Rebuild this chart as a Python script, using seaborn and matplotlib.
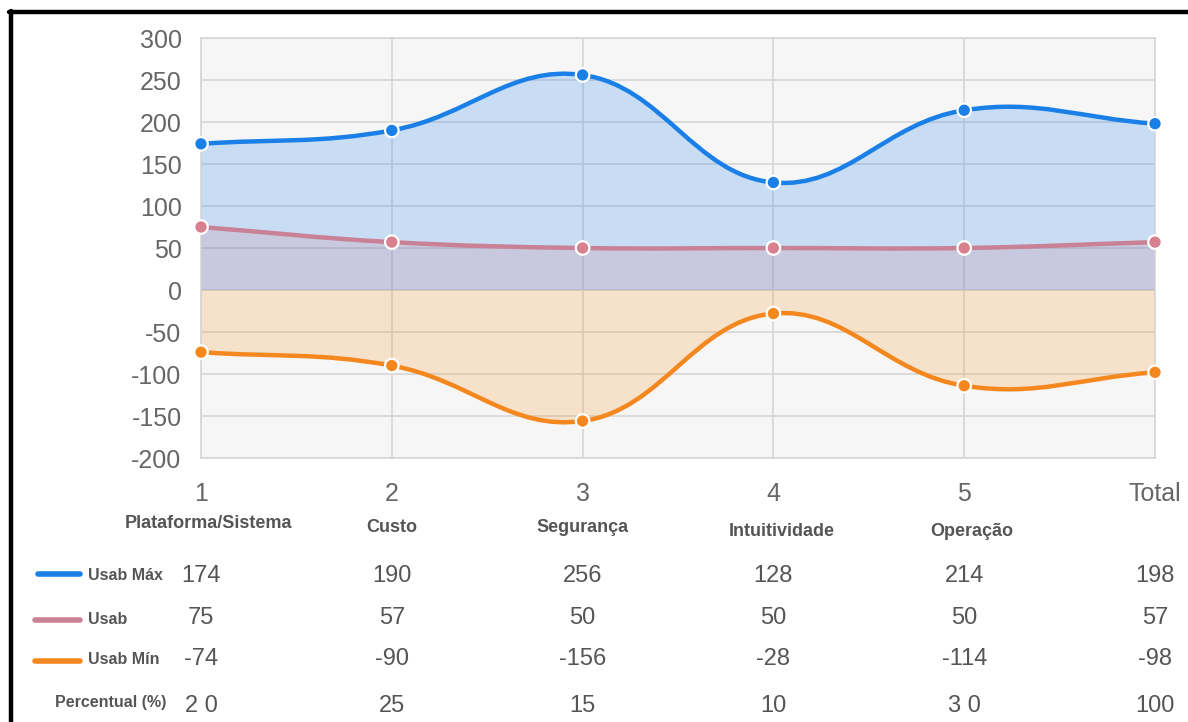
import numpy as np
import pandas as pd
import matplotlib
matplotlib.use("Agg")
import matplotlib.pyplot as plt
from matplotlib.path import Path
from matplotlib.patches import PathPatch
from matplotlib.lines import Line2D
from matplotlib.transforms import offset_copy
import seaborn as sns

# ---- data ----
tick_labels = ["1", "2", "3", "4", "5", "Total"]
categories = ["Plataforma/Sistema", "Custo", "Segurança", "Intuitividade", "Operação", ""]
usab_max = [174, 190, 256, 128, 214, 198]
usab = [75, 57, 50, 50, 50, 57]
usab_min = [-74, -90, -156, -28, -114, -98]
pct_labels = ["2 0", "25", "15", "10", "3 0", "100"]
series_names = ["Usab Máx", "Usab", "Usab Mín"]

sns.set_theme(style="white")
plt.rcParams["font.family"] = ["Liberation Sans", "DejaVu Sans"]
plt.rcParams["axes.unicode_minus"] = False

W, H = 1188, 722
fig = plt.figure(figsize=(W / 100, H / 100), dpi=100)
fig.patch.set_facecolor("white")

ax = fig.add_axes([201 / W, 1 - 458 / H, 954 / W, 420 / H])
ax.set_xlim(0, 5)
ax.set_ylim(-200, 300)
ax.set_facecolor("#f6f6f6")

grid_c = "#d6d6d6"
ax.set_yticks(np.arange(-200, 301, 50))
ax.set_xticks(range(len(tick_labels)))
ax.set_xticklabels(tick_labels)
ax.grid(True, color=grid_c, linewidth=1.2)
for sp in ax.spines.values():
    sp.set_color(grid_c)
    sp.set_linewidth(1.2)
ax.tick_params(axis="y", length=13, width=1.2, color=grid_c, pad=1,
               labelsize=18, labelcolor="#666666")
ax.tick_params(axis="x", length=16, width=1.2, color=grid_c, pad=1,
               labelsize=18, labelcolor="#666666")
ax.set_xlabel("")
ax.set_ylabel("")

xs = np.arange(len(tick_labels), dtype=float)


def smooth_path(values, tension=0.4):
    """Cubic bezier through the points, control points computed in pixel space."""
    pts = ax.transData.transform(np.column_stack([xs, values]))
    n = len(pts)
    c_prev = np.zeros_like(pts)
    c_next = np.zeros_like(pts)
    for i in range(n):
        p0 = pts[i - 1] if i > 0 else pts[i]
        p1 = pts[i]
        p2 = pts[i + 1] if i < n - 1 else pts[i]
        d01 = np.hypot(*(p1 - p0))
        d12 = np.hypot(*(p2 - p1))
        tot = d01 + d12
        s01 = d01 / tot if tot else 0
        s12 = d12 / tot if tot else 0
        c_prev[i] = p1 - tension * s01 * (p2 - p0)
        c_next[i] = p1 + tension * s12 * (p2 - p0)
    inv = ax.transData.inverted()
    pts_d = inv.transform(pts)
    cp_d = inv.transform(c_prev)
    cn_d = inv.transform(c_next)
    verts = [pts_d[0]]
    codes = [Path.MOVETO]
    for i in range(n - 1):
        verts += [cn_d[i], cp_d[i + 1], pts_d[i + 1]]
        codes += [Path.CURVE4] * 3
    return verts, codes


styles = [
    dict(line="#1a7fe6", fill="#1f82ea", marker="#1a7fe6"),
    dict(line="#c98196", fill="#c88296", marker="#d9808f"),
    dict(line="#f5871f", fill="#f8901f", marker="#f5871f"),
]
all_series = [usab_max, usab, usab_min]

# filled areas down to zero
for vals, st, z, a in zip(all_series, styles, [1, 2, 1], [0.21, 0.22, 0.2]):
    verts, codes = smooth_path(vals)
    fv = [(xs[0], 0.0)] + verts + [(xs[-1], 0.0), (xs[0], 0.0)]
    fc = [Path.MOVETO, Path.LINETO] + codes[1:] + [Path.LINETO, Path.CLOSEPOLY]
    ax.add_patch(PathPatch(Path(fv, fc), facecolor=st["fill"], alpha=a,
                           edgecolor="none", zorder=z))

# curves
for vals, st in zip(all_series, styles):
    verts, codes = smooth_path(vals)
    ax.add_patch(PathPatch(Path(verts, codes), facecolor="none",
                           edgecolor=st["line"], linewidth=3.2, zorder=4,
                           capstyle="round", joinstyle="round"))

# points
df = pd.DataFrame({
    "pos": np.tile(xs, 3),
    "value": usab_max + usab + usab_min,
    "serie": np.repeat(series_names, len(xs)),
})
sns.scatterplot(data=df, x="pos", y="value", hue="serie",
                palette={n: s["marker"] for n, s in zip(series_names, styles)},
                s=95, edgecolor="white", linewidth=1.6, legend=False,
                zorder=5, clip_on=False, ax=ax)
ax.set_xlabel("")
ax.set_ylabel("")

# category names and the value table under the axis
xt = ax.get_xaxis_transform()


def ay(py):
    return (458 - py) / 420


# small per-label nudges (pixels: right, down)
name_dx = [8, 0, 0, 8, 8, 0]
name_py = [523, 527, 528, 532, 531, 528]
for x, name, dx, py in zip(xs, categories, name_dx, name_py):
    tr = offset_copy(xt, fig=fig, x=dx, y=0, units="dots")
    ax.text(x, ay(py), name, transform=tr, ha="center", va="center",
            fontsize=13, fontweight="bold", color="#555555", clip_on=False)

row_y = [576, 618, 659, 706]
rows = [usab_max, usab, usab_min]
for ry, vals in zip(row_y[:3], rows):
    for x, v in zip(xs, vals):
        ax.text(x, ay(ry), f"{v}", transform=xt, ha="center", va="center",
                fontsize=17, color="#555555", clip_on=False)
for x, lab in zip(xs, pct_labels):
    ax.text(x, ay(row_y[3]), lab, transform=xt, ha="center", va="center",
            fontsize=17, color="#555555", clip_on=False)

# row keys
key_x = [(38, 80), (35, 80), (35, 80)]
key_y = [574, 620, 661]
for (x0, x1), ky, st, name, ty in zip(key_x, key_y, styles, series_names, [576, 620, 660]):
    fig.add_artist(Line2D([x0 / W, x1 / W], [1 - ky / H, 1 - ky / H],
                          transform=fig.transFigure, color=st["line"],
                          linewidth=4, solid_capstyle="round"))
    fig.text(88 / W, 1 - ty / H, name, ha="left", va="center", fontsize=11.5,
             fontweight="bold", color="#555555")
fig.text(55 / W, 1 - 703 / H, "Percentual (%)", ha="left", va="center",
         fontsize=11.5, fontweight="bold", color="#555555")

# frame on top and left
fig.add_artist(Line2D([9 / W, 1], [1 - 12 / H, 1 - 12 / H], transform=fig.transFigure,
                      color="black", linewidth=3.2))
fig.add_artist(Line2D([11 / W, 11 / W], [0, 1 - 11 / H], transform=fig.transFigure,
                      color="black", linewidth=3.2))

fig.savefig("out.png", dpi=100)
